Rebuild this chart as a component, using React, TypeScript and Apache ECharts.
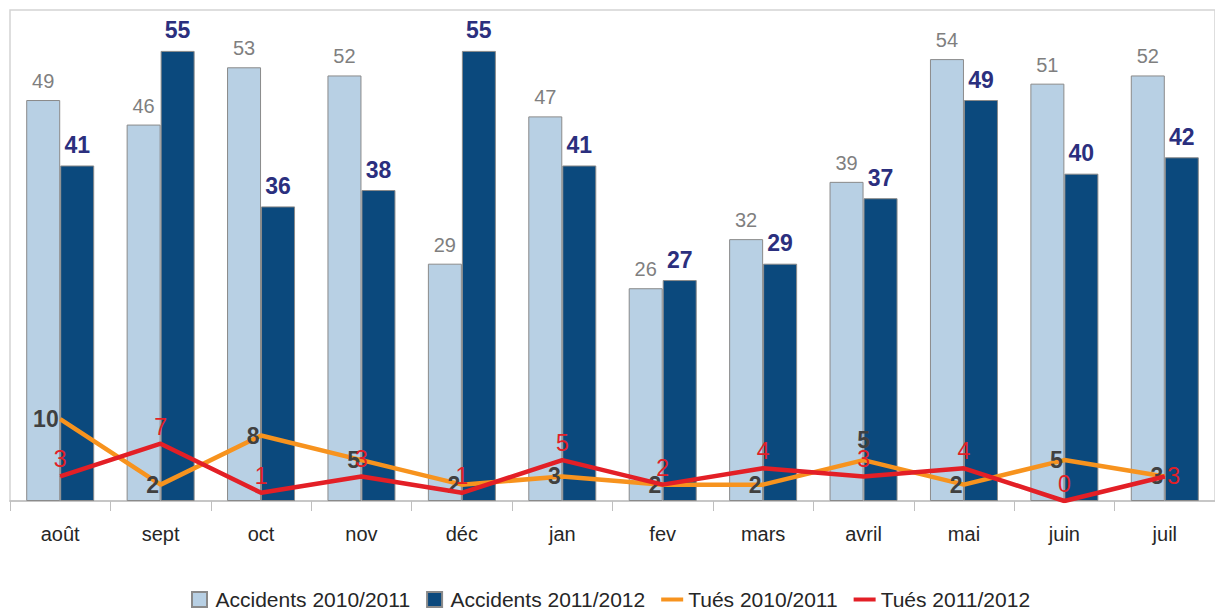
import React, { useEffect, useRef } from "react";
import * as echarts from "echarts";

const months = ["août", "sept", "oct", "nov", "déc", "jan", "fev", "mars", "avril", "mai", "juin", "juil"];
const accidents2010 = [49, 46, 53, 52, 29, 47, 26, 32, 39, 54, 51, 52];
const accidents2011 = [41, 55, 36, 38, 55, 41, 27, 29, 37, 49, 40, 42];
const tues2010 = [10, 2, 8, 5, 2, 3, 2, 2, 5, 2, 5, 3];
const tues2011 = [3, 7, 1, 3, 1, 5, 2, 4, 3, 4, 0, 3];
const seriesNames = ["Accidents 2010/2011", "Accidents 2011/2012", "Tués 2010/2011", "Tués 2011/2012"];

// label placements that differ from the series default (as in the reference)
const tues2010TopLabelMonths = ["avril"];
const tues2011RightLabelMonths = ["juil"];

const FONT = "'Liberation Sans', Arial, sans-serif";

export default function App() {
  const ref = useRef<HTMLDivElement>(null);
  useEffect(() => {
    if (!ref.current) return;
    const chart = echarts.init(ref.current, null, { renderer: "svg" });
    const square = "path://M0,0h15v15h-15z";
    const bar = "path://M0,0h22v4h-22z";
    const orangeData = tues2010.map((v, i) =>
      tues2010TopLabelMonths.includes(months[i])
        ? { value: v, label: { position: "top", distance: 8 } }
        : v
    );
    const redData = tues2011.map((v, i) =>
      tues2011RightLabelMonths.includes(months[i])
        ? { value: v, label: { position: "right", distance: 2 } }
        : v
    );
    chart.setOption({
      animation: false,
      textStyle: { fontFamily: FONT },
      grid: {
        left: 10,
        top: 10,
        right: -12,
        bottom: 110,
        show: true,
        borderColor: "#d4d4d4",
        borderWidth: 1.5,
      },
      legend: {
        left: 191,
        top: 589,
        padding: 0,
        itemWidth: 22,
        itemHeight: 15,
        itemGap: 16,
        symbolKeepAspect: true,
        textStyle: { fontFamily: FONT, fontSize: 21, lineHeight: 21, color: "#262626" },
        data: [
          { name: seriesNames[0], icon: square },
          { name: seriesNames[1], icon: square },
          { name: seriesNames[2], icon: bar },
          { name: seriesNames[3], icon: bar },
        ],
      },
      xAxis: {
        type: "category",
        data: months,
        axisLine: { lineStyle: { color: "#bfbfbf", width: 1.5 } },
        axisTick: { show: true, length: 10, interval: 0, lineStyle: { color: "#bfbfbf" } },
        axisLabel: { color: "#262626", fontSize: 20, margin: 23, interval: 0, fontFamily: FONT },
      },
      yAxis: {
        type: "value",
        min: 0,
        max: 60,
        show: false,
        splitLine: { show: false },
      },
      series: [
        {
          name: seriesNames[0],
          type: "bar",
          data: accidents2010,
          barWidth: 34,
          barGap: "0%",
          itemStyle: { color: "#b8d0e4", borderColor: "#8a8a8a", borderWidth: 1 },
          label: {
            show: true,
            position: "top",
            distance: 9,
            color: "#7f7f7f",
            fontSize: 20,
            fontFamily: FONT,
          },
        },
        {
          name: seriesNames[1],
          type: "bar",
          data: accidents2011,
          barWidth: 34,
          barGap: "0%",
          itemStyle: { color: "#0b497d", borderColor: "#8a8a8a", borderWidth: 1 },
          label: {
            show: true,
            position: "top",
            distance: 9,
            color: "#2b2f7e",
            fontSize: 23,
            fontWeight: "bold",
            fontFamily: FONT,
          },
        },
        {
          name: seriesNames[2],
          type: "line",
          data: orangeData,
          symbol: "circle",
          symbolSize: 1,
          showSymbol: true,
          lineStyle: { color: "#f7931e", width: 4.5 },
          itemStyle: { color: "#f7931e" },
          label: {
            show: true,
            position: "left",
            distance: 1,
            color: "#404040",
            fontSize: 23,
            fontWeight: "bold",
            fontFamily: FONT,
          },
          z: 3,
        },
        {
          name: seriesNames[3],
          type: "line",
          data: redData,
          symbol: "circle",
          symbolSize: 1,
          showSymbol: true,
          lineStyle: { color: "#e31f26", width: 4.5 },
          itemStyle: { color: "#e31f26" },
          label: {
            show: true,
            position: "top",
            distance: 5,
            color: "#e31f26",
            fontSize: 23,
            fontFamily: FONT,
          },
          z: 4,
        },
      ],
    });
    return () => chart.dispose();
  }, []);
  return (
    <div
      ref={ref}
      style={{ position: "absolute", left: 0, top: 0, width: 1215, height: 611, overflow: "hidden", background: "#fff" }}
    />
  );
}
